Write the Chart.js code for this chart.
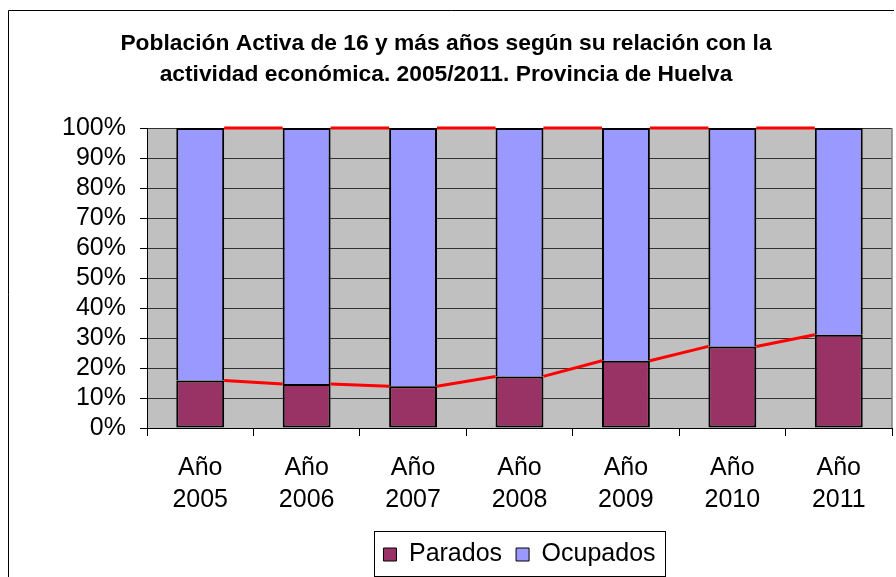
<!DOCTYPE html>
<html>
<head>
<meta charset="utf-8">
<script src="https://cdn.jsdelivr.net/npm/chart.js@4"></script>
<style>
  html, body { margin: 0; padding: 0; background: #fff; }
  #wrap { width: 896px; height: 577px; position: relative; }
</style>
</head>
<body>
<div id="wrap"><canvas id="myChart" width="896" height="577"></canvas></div>
<script>
// categories and series (percent of active population)
const years = ['2005', '2006', '2007', '2008', '2009', '2010', '2011'];
const parados = [15.8, 14.7, 13.9, 17.2, 22.4, 27.2, 31.1];
const ocupados = [84.2, 85.3, 86.1, 82.8, 77.6, 72.8, 68.9];
const yTicks = [0, 10, 20, 30, 40, 50, 60, 70, 80, 90, 100];

const FONT = "'Liberation Sans', Arial, sans-serif";

// grey plot area, outer frame, series lines and legend box
const framePlugin = {
    id: 'frame',
    beforeDraw(chart) {
        const ctx = chart.ctx;
        const a = chart.chartArea;
        ctx.save();
        ctx.fillStyle = '#fff';
        ctx.fillRect(0, 0, chart.width, chart.height);
        ctx.fillStyle = '#C0C0C0';
        ctx.fillRect(a.left, a.top, a.right - a.left, a.bottom - a.top);
        ctx.strokeStyle = '#000';
        ctx.lineWidth = 1;
        ctx.beginPath();
        ctx.moveTo(8.5, 600);
        ctx.lineTo(8.5, 10.5);
        ctx.lineTo(894, 10.5);
        ctx.stroke();
        ctx.restore();
    },
    afterDatasetsDraw(chart) {
        const ctx = chart.ctx;
        const a = chart.chartArea;
        ctx.save();
        ctx.strokeStyle = '#808080';
        ctx.lineWidth = 1.5;
        ctx.beginPath();
        ctx.moveTo(a.right, a.top);
        ctx.lineTo(a.right, a.bottom);
        ctx.stroke();
        // series lines between bar tops
        ctx.strokeStyle = '#FF0000';
        ctx.lineWidth = 3;
        chart.data.datasets.forEach((ds, di) => {
            const meta = chart.getDatasetMeta(di);
            for (let i = 0; i < meta.data.length - 1; i++) {
                const b1 = meta.data[i], b2 = meta.data[i + 1];
                ctx.beginPath();
                ctx.moveTo(b1.x + b1.width / 2, b1.y);
                ctx.lineTo(b2.x - b2.width / 2, b2.y);
                ctx.stroke();
            }
        });
        ctx.restore();
    },
    afterDraw(chart) {
        const lg = chart.legend;
        if (!lg || !lg.legendHitBoxes || !lg.legendHitBoxes.length) return;
        const boxes = lg.legendHitBoxes;
        const last = boxes[boxes.length - 1];
        const l = boxes[0].left - 9;
        const r = last.left + last.width + 10;
        const t = boxes[0].top - 11;
        const b = boxes[0].top + boxes[0].height + 9;
        const ctx = chart.ctx;
        ctx.save();
        ctx.strokeStyle = '#000';
        ctx.lineWidth = 1;
        ctx.strokeRect(Math.round(l) + 0.5, Math.round(t) + 0.5, Math.round(r - l), Math.round(b - t));
        ctx.restore();
    }
};

new Chart(document.getElementById('myChart'), {
    type: 'bar',
    data: {
        labels: years.map(y => ['Año', y]),
        datasets: [
            {
                label: 'Parados',
                data: parados,
                backgroundColor: '#993366',
                borderColor: '#000',
                borderWidth: 2,
                borderSkipped: false
            },
            {
                label: 'Ocupados',
                data: ocupados,
                backgroundColor: '#9999FF',
                borderColor: '#000',
                borderWidth: 2,
                borderSkipped: 'bottom'
            }
        ]
    },
    options: {
        responsive: false,
        animation: false,
        devicePixelRatio: 1,
        layout: { padding: { left: 0, right: 4, top: 0, bottom: 0 } },
        datasets: { bar: { categoryPercentage: 1, barPercentage: 0.45 } },
        scales: {
            x: {
                stacked: true,
                offset: true,
                grid: { offset: true, drawOnChartArea: false, drawTicks: true, tickLength: 8, color: '#000' },
                border: { color: '#000', width: 1 },
                ticks: { color: '#000', padding: 16, font: { family: FONT, size: 25, lineHeight: 1.28 }, maxRotation: 0, autoSkip: false },
                afterFit(scale) { scale.height = 100; }
            },
            y: {
                stacked: true,
                min: 0,
                max: 100,
                afterBuildTicks(scale) { scale.ticks = yTicks.map(v => ({ value: v })); },
                grid: { color: '#333', lineWidth: 1, tickLength: 7, tickColor: '#000' },
                border: { color: '#000', width: 1 },
                ticks: { color: '#000', padding: 14, autoSkip: false, font: { family: FONT, size: 25 }, callback: v => v + '%' },
                afterFit(scale) { scale.width = 147; }
            }
        },
        plugins: {
            title: {
                display: true,
                text: ['Población Activa de 16 y más años según su relación con la', 'actividad económica. 2005/2011. Provincia de Huelva'],
                color: '#000',
                font: { family: FONT, size: 22.8, weight: 'bold', lineHeight: 1.36 },
                padding: { top: 28, bottom: 38 }
            },
            legend: {
                position: 'bottom',
                fullSize: false,
                labels: {
                    color: '#000',
                    boxWidth: 13,
                    boxHeight: 13,
                    padding: 14,
                    font: { family: FONT, size: 25 },
                    generateLabels(chart) {
                        return chart.data.datasets.map((ds, i) => ({
                            text: ds.label,
                            fillStyle: ds.backgroundColor,
                            strokeStyle: '#000',
                            lineWidth: 1,
                            datasetIndex: i,
                            fontColor: '#000'
                        }));
                    }
                }
            },
            tooltip: { enabled: false }
        }
    },
    plugins: [framePlugin]
});
</script>
</body>
</html>
